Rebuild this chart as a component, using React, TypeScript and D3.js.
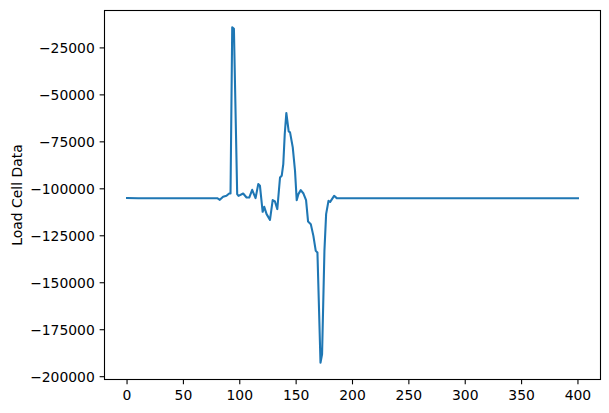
import React from "react";
import * as d3 from "d3";

const xValues: number[] = [
  0, 10, 40, 80, 82.3, 85.2, 88.2, 90.6, 91.8, 93.3, 94.8, 97.7, 98.9, 103, 106,
  108.4, 111, 114, 116.4, 117.9, 120.3, 121.7, 123.8, 126.8, 129.2, 131.2, 133.3,
  135.7, 137.2, 138.6, 139.9, 141.3, 143.4, 144.6, 147, 149, 150.5, 152, 154.1,
  156.5, 158.8, 160.6, 163, 165.3, 167.4, 168.9, 170.1, 171.6, 173, 175.1, 176.6,
  178.7, 180.2, 183.7, 186, 200, 250, 300, 350, 400,
];
const loadValues: number[] = [
  -104900, -105000, -105000, -105000, -105860, -104260, -103730, -102500, -102500,
  -14020, -14870, -102820, -103730, -102500, -104630, -104630, -100530, -104950,
  -97490, -98390, -112250, -109590, -113480, -116520, -106020, -106760, -110810,
  -93970, -93070, -86830, -70840, -59650, -69450, -69990, -77980, -90400, -106020,
  -102820, -100690, -102500, -106020, -117420, -118810, -125050, -133040, -133950,
  -159690, -192570, -188100, -133040, -113480, -106390, -106920, -103730, -104950,
  -105000, -105000, -105000, -105000, -105000,
];
const xTicks: number[] = [0, 50, 100, 150, 200, 250, 300, 350, 400];
const yTicks: number[] = [
  -200000, -175000, -150000, -125000, -100000, -75000, -50000, -25000,
];
const yLabel = "Load Cell Data";

const W = 609;
const H = 413;
const L = 104.5;
const R = 600.5;
const T = 10.5;
const B = 379.5;
const FONT = "DejaVu Sans, sans-serif";

function fmt(v: number) {
  return (v < 0 ? "\u2212" : "") + String(Math.abs(v));
}

export default function App() {
  const [x0, x1] = d3.extent(xValues) as [number, number];
  const [y0, y1] = d3.extent(loadValues) as [number, number];
  const px = (x1 - x0) * 0.05;
  const py = (y1 - y0) * 0.05;
  const x = d3.scaleLinear().domain([x0 - px, x1 + px]).range([L, R]);
  const y = d3.scaleLinear().domain([y0 - py, y1 + py]).range([B, T]);
  const pts = xValues.map((v, i) => [v, loadValues[i]] as [number, number]);
  const line = d3
    .line<[number, number]>()
    .x((d) => x(d[0]))
    .y((d) => y(d[1]));

  return (
    <svg
      width={W}
      height={H}
      style={{ position: "absolute", left: 0, top: 0, background: "#fff" }}
      fontFamily={FONT}
    >
      <rect x={0} y={0} width={W} height={H} fill="#fff" />
      <path
        d={line(pts) || ""}
        fill="none"
        stroke="#1f77b4"
        strokeWidth={2.08}
        strokeLinejoin="round"
        strokeLinecap="square"
      />
      <rect
        x={L}
        y={T}
        width={R - L}
        height={B - T}
        fill="none"
        stroke="#000"
        strokeWidth={1.1}
      />
      {xTicks.map((t) => (
        <g key={"x" + t}>
          <line x1={x(t)} x2={x(t)} y1={B} y2={B + 4.86} stroke="#000" strokeWidth={1.1} />
          <text x={x(t)} y={B + 20.5} textAnchor="middle" fontSize={13.9} fill="#000">
            {fmt(t)}
          </text>
        </g>
      ))}
      {yTicks.map((t) => (
        <g key={"y" + t}>
          <line x1={L - 4.86} x2={L} y1={y(t)} y2={y(t)} stroke="#000" strokeWidth={1.1} />
          <text
            x={L - 9.7}
            y={y(t)}
            dy="0.35em"
            textAnchor="end"
            fontSize={13.9}
            fill="#000"
          >
            {fmt(t)}
          </text>
        </g>
      ))}
      <text
        transform={`translate(21.5,${(T + B) / 2}) rotate(-90)`}
        textAnchor="middle"
        fontSize={13.9}
        fill="#000"
      >
        {yLabel}
      </text>
    </svg>
  );
}
